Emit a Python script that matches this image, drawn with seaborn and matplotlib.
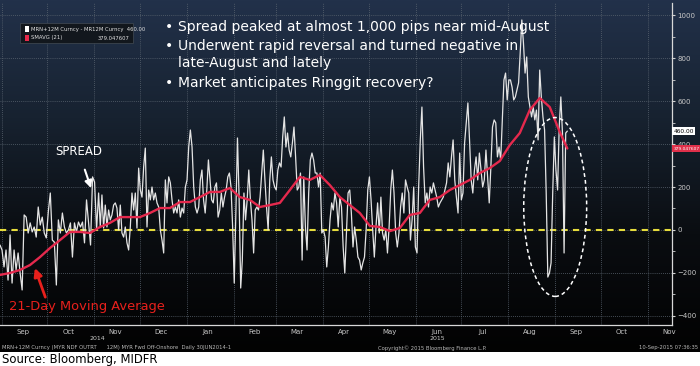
import numpy as np
import pandas as pd
import matplotlib
matplotlib.use("Agg")
import matplotlib.pyplot as plt
import matplotlib.dates as mdates
import matplotlib.transforms as mtrans
from matplotlib.patches import Ellipse, Rectangle
from matplotlib.colors import LinearSegmentedColormap
import seaborn as sns

# ── DATA (MYR 12M NDF offshore-onshore spread, pips) ────────────────────────
seg_edges = ["2014-08-31", "2014-11-04", "2015-01-09", "2015-03-16",
             "2015-05-21", "2015-07-26", "2015-09-09"]

spread_sep_oct = [-70, -93, -172, -93, -233, -23, -247, -93, -186, -107, -200, -279,
                  70, 60, -14, 33, -9, 14, -33, 107, 23, 60, -14, -37, 84, 172,
                  -47, -56, -256, 47, -14, 79, 14, -14, 0, 33, -126, 33, -9, 37,
                  14, 37, -60, 140, 33, -70, 247, 223, 0]
spread_nov_dec = [172, 14, 163, 9, 116, 14, 93, 47, 70, 116, 126, 102, 0, 116, -14,
                  -33, 14, -60, -93, 14, 172, 93, 172, 9, 288, 186, 153, 293, 381,
                  14, 186, 140, 200, 140, 172, 126, 107, 0, -47, -107, 233, 126,
                  247, 219, 140, 79, 107, 79, 140, 60, 102, 79, 200, 233, 386, 465,
                  386, 200, 107, 79]
spread_jan_mar = [107, 233, 279, 140, 79, 186, 326, 233, 140, 126, 200, 219, 60, 93,
                  172, 107, 153, 186, 247, 265, 200, 14, -247, 79, 428, 153, -270,
                  -140, 172, 47, 140, 279, 140, 47, -107, 93, 107, 93, 153, 265, 372,
                  233, 107, 0, 233, 340, 233, 200, 186, 279, 312, 293, 433, 526, 386,
                  451, 372, 340, 405, 479, 340, 186]
spread_mar_may = [200, 265, -140, 247, 14, -93, 172, 326, 358, 326, 265, 265, 200,
                  265, -14, 0, -33, -172, -79, 47, 126, 93, 172, 126, 14, 153, 107,
                  -79, -200, -14, 172, 186, 79, -79, 14, -47, -126, -140, -186, -153,
                  -126, 0, 186, 247, 140, 0, -126, 14, 126, -14, 153, -14, -47, 0,
                  -107, 14, 186, 279, 172, -14, -79]
spread_may_jul = [-14, 107, 172, 79, 233, 200, 172, -47, 47, 200, -79, -107, 200, 419,
                  572, 293, 126, 172, 107, 200, 172, 219, 186, 153, 107, 126, 140,
                  153, 186, 219, 312, 247, 340, 419, 233, 153, 79, 358, 140, 172, 405,
                  498, 591, 419, 233, 172, 279, 340, 233, 358, 279, 200, 233, 372,
                  247, 126, 293, 479, 512, 498, 340]
spread_jul_sep = [386, 326, 512, 698, 730, 605, 698, 698, 665, 605, 619, 651, 684, 823,
                  977, 870, 730, 805, 619, 572, 526, 572, 512, 558, 419, 744, 619,
                  526, 465, 172, -219, -200, -153, 172, 433, 279, 186, 479, 619, 451,
                  -107, 451, 460.00]
spread_segments = [spread_sep_oct, spread_nov_dec, spread_jan_mar,
                   spread_mar_may, spread_may_jul, spread_jul_sep]

# 21-day moving average, read roughly weekly, plus last print
ma_start, ma_stop, ma_last_date = "2014-08-31", "2015-09-04", "2015-09-09"
ma_values = [-209, -200, -186, -163, -126, -84, -47, -9, -9, -14, 14, 33, 60, 60, 60,
             79, 102, 102, 130, 130, 153, 177, 177, 195, 153, 140, 107, 116, 126, 186,
             247, 233, 256, 209, 153, 116, 79, 19, 14, -5, 9, 70, 79, 140, 153, 186,
             209, 233, 265, 288, 321, 395, 451, 558, 614, 572, 456]
ma_last = 379.047607

y_ticks = [-400, -200, 0, 200, 400, 600, 800, 1000]

# ── BUILD SERIES ────────────────────────────────────────────────────────────
dates = []
for i, seg in enumerate(spread_segments):
    last = i == len(spread_segments) - 1
    rng = pd.date_range(seg_edges[i], seg_edges[i + 1], periods=len(seg) + (0 if last else 1))
    dates.extend(rng if last else rng[:-1])
spread = pd.DataFrame({"date": dates, "value": np.concatenate(spread_segments)})

ma_dates = list(pd.date_range(ma_start, ma_stop, periods=len(ma_values))) + [pd.Timestamp(ma_last_date)]
ma = pd.DataFrame({"date": ma_dates, "value": ma_values + [ma_last]})

# ── FIGURE ──────────────────────────────────────────────────────────────────
sns.set_style("dark")
plt.rcParams["font.family"] = ["DejaVu Sans"]
W, H = 700, 366
fig = plt.figure(figsize=(7, 3.66), dpi=100, facecolor="white")

# dark gradient background (Bloomberg terminal look)
bg = fig.add_axes([0, 1 - 352 / H, 1, 352 / H])
cmap = LinearSegmentedColormap.from_list("bbg", ["#22314a", "#172230", "#0a0d11", "#020202"])
bg.imshow(np.linspace(0, 1, 256).reshape(-1, 1), aspect="auto", cmap=cmap,
          extent=[0, 1, 0, 1], origin="upper")
bg.set_axis_off()

ax = fig.add_axes([0, 1 - 325 / H, 672 / W, 322 / H])
ax.set_facecolor("none")

sns.lineplot(data=spread, x="date", y="value", ax=ax, color="#e4e4e4", lw=0.9, zorder=4)
sns.lineplot(data=ma, x="date", y="value", ax=ax, color="#e5294d", lw=1.7, zorder=5)
ax.axhline(0, color="#e6dc3c", lw=1.5, ls=(0, (3, 2.5)), zorder=3)

ax.set_xlim(pd.Timestamp("2014-08-31"), pd.Timestamp("2015-11-17"))
ax.set_ylim(-442, 1056)
ax.set_xlabel(""); ax.set_ylabel("")

# grid / axes
ax.xaxis.set_major_locator(mdates.MonthLocator())
ax.xaxis.set_major_formatter(plt.NullFormatter())
ax.xaxis.set_minor_locator(mdates.MonthLocator(bymonthday=15))
ax.xaxis.set_minor_formatter(mdates.DateFormatter("%b"))
ax.tick_params(axis="x", which="major", length=3, color="#888888", direction="out")
ax.tick_params(axis="x", which="minor", length=0, pad=3, labelsize=5, labelcolor="#c8c8c8")
ax.yaxis.tick_right()
ax.set_yticks(y_ticks)
ax.set_yticks(range(-400, 1001, 100), minor=True)
ax.tick_params(axis="y", which="both", length=2, color="#d0d0d0", pad=2,
               labelsize=5, labelcolor="#c8c8c8")
ax.grid(True, which="major", axis="both", color="#5a6470", lw=0.6, ls=(0, (1, 1.5)))
for s in ["top", "left"]:
    ax.spines[s].set_visible(False)
for s in ["bottom", "right"]:
    ax.spines[s].set_visible(True)
    ax.spines[s].set_color("#d8d8d8")
    ax.spines[s].set_linewidth(0.9)

# circled reversal
d0 = mdates.date2num(pd.Timestamp("2015-09-01"))
ax.add_patch(Ellipse((d0, 107), 41.5, 832, fill=False, ec="white", lw=1.1,
                     ls=(0, (2.5, 2)), zorder=6))

# annotations
ax.annotate("SPREAD", xy=(pd.Timestamp("2014-10-30"), 195),
            xytext=(pd.Timestamp("2014-10-22"), 363), color="white", fontsize=8.5,
            ha="center", va="center",
            arrowprops=dict(arrowstyle="-|>,head_width=0.25,head_length=0.5",
                            color="white", lw=1.5, shrinkA=6, shrinkB=0))
ax.annotate("21-Day Moving Average", xy=(pd.Timestamp("2014-09-23"), -177),
            xytext=(pd.Timestamp("2014-09-06"), -358), color="#e8201c", fontsize=9.4,
            ha="left", va="center",
            arrowprops=dict(arrowstyle="-|>,head_width=0.25,head_length=0.5",
                            color="#e8201c", lw=2, shrinkA=0, shrinkB=0,
                            relpos=(0.24, 1.0)))

# last-value tags on the right axis
tr = mtrans.blended_transform_factory(ax.transAxes, ax.transData)
ax.text(1.002, 460, "460.00", transform=tr, fontsize=4.2, color="black", va="center",
        ha="left", bbox=dict(boxstyle="square,pad=0.2", fc="white", ec="none"),
        clip_on=False, zorder=8)
ax.text(1.002, ma_last, "379.047607", transform=tr, fontsize=3.2, color="white",
        va="center", ha="left",
        bbox=dict(boxstyle="square,pad=0.25", fc="#e0304a", ec="none"),
        clip_on=False, zorder=8)

# legend box
fig.add_artist(Rectangle((20 / W, 1 - 43 / H), 113 / W, 20 / H, transform=fig.transFigure,
                         fc="#12171d", ec="#3c444e", lw=0.6))
fig.add_artist(Rectangle((25 / W, 1 - 31.5 / H), 4 / W, 5 / H, transform=fig.transFigure,
                         fc="white", ec="none"))
fig.add_artist(Rectangle((25 / W, 1 - 40.5 / H), 4 / W, 5 / H, transform=fig.transFigure,
                         fc="#e8294a", ec="none"))
fig.text(31 / W, 1 - 29 / H, "MRN+12M Curncy - MR12M Curncy  460.00", fontsize=3.8,
         color="#e0e0e0", va="center")
fig.text(31 / W, 1 - 38 / H, "SMAVG (21)", fontsize=3.8, color="#e0e0e0", va="center")
fig.text(130 / W, 1 - 38 / H, "379.047607", fontsize=3.8, color="#e0e0e0", va="center",
         ha="right")

# bullet commentary
bullets = [(27, "•", "Spread peaked at almost 1,000 pips near mid-August"),
           (46, "•", "Underwent rapid reversal and turned negative in"),
           (63, "", "late-August and lately"),
           (83, "•", "Market anticipates Ringgit recovery?")]
for yy, mark, txt in bullets:
    if mark:
        fig.text(165 / W, 1 - yy / H, mark, color="white", fontsize=10, va="center")
    fig.text(178 / W, 1 - yy / H, txt, color="white", fontsize=10, va="center")

# year labels and footer
fig.text(97 / W, 1 - 338 / H, "2014", fontsize=4.5, color="#c8c8c8", ha="center", va="center")
fig.text(437 / W, 1 - 338 / H, "2015", fontsize=4.5, color="#c8c8c8", ha="center", va="center")
fig.text(2 / W, 1 - 348 / H, "MRN+12M Curncy (MYR NDF OUTRT      12M) MYR Fwd Off-Onshore  Daily 30JUN2014-1",
         fontsize=3.8, color="#b8b8b8", va="center")
fig.text(378 / W, 1 - 348 / H, "Copyright© 2015 Bloomberg Finance L.P.", fontsize=3.8,
         color="#b8b8b8", va="center")
fig.text(698 / W, 1 - 348 / H, "10-Sep-2015 07:36:35", fontsize=3.8, color="#b8b8b8",
         va="center", ha="right")
fig.text(2 / W, 1 - 360 / H, "Source: Bloomberg, MIDFR", fontsize=8.4, color="black",
         va="center")

fig.savefig("out.png", dpi=100, facecolor="white")
